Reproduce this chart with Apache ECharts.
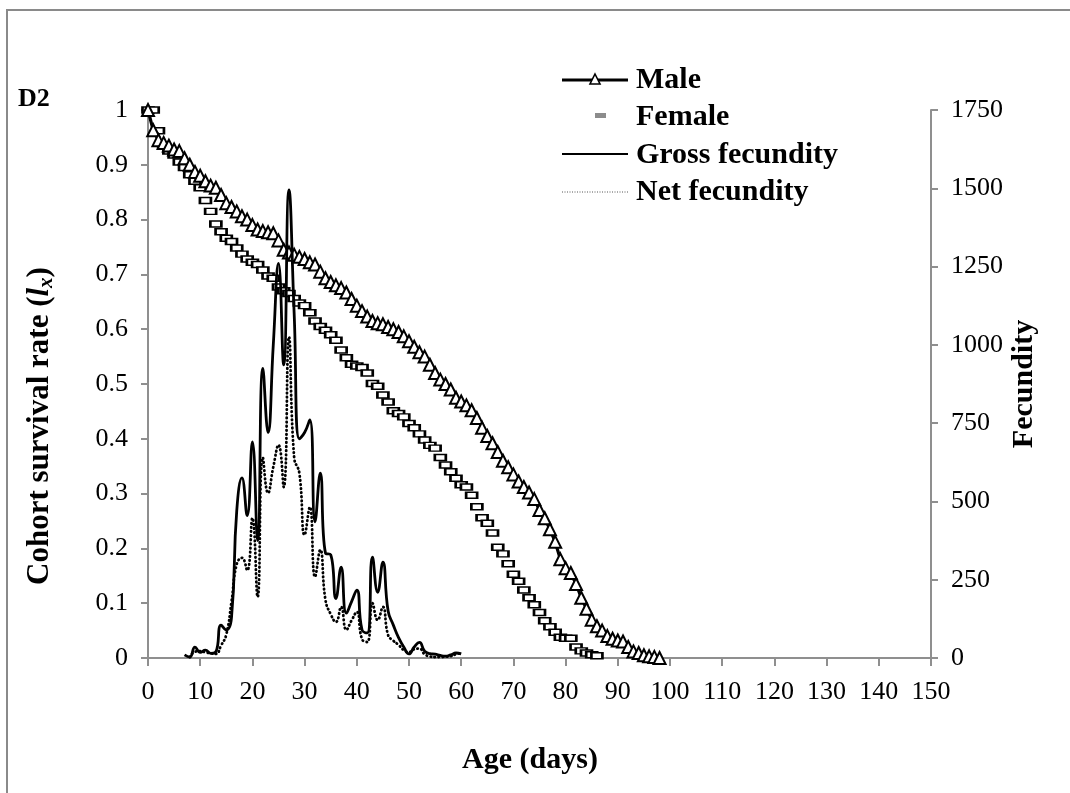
<!DOCTYPE html>
<html>
<head>
<meta charset="utf-8">
<script src="https://cdn.jsdelivr.net/npm/echarts@6/dist/echarts.min.js"></script>
<style>
  html, body { margin: 0; padding: 0; background: #fff; }
  #chart { width: 1070px; height: 793px; }
</style>
</head>
<body>
<div id="chart"></div>
<script>
// Cohort survival rate (lx) by age, one value per day starting at day 0
const maleSurvival = [
  1.000, 0.963, 0.945, 0.940, 0.935, 0.928, 0.925, 0.912, 0.900, 0.887,
  0.880, 0.870, 0.862, 0.858, 0.845, 0.830, 0.823, 0.815, 0.806, 0.800,
  0.790, 0.782, 0.779, 0.777, 0.775, 0.762, 0.745, 0.740, 0.736, 0.732,
  0.728, 0.722, 0.718, 0.705, 0.693, 0.686, 0.680, 0.675, 0.667, 0.655,
  0.643, 0.633, 0.623, 0.615, 0.611, 0.609, 0.604, 0.600, 0.595, 0.587,
  0.578, 0.568, 0.558, 0.550, 0.535, 0.520, 0.508, 0.500, 0.490, 0.475,
  0.468, 0.461, 0.452, 0.438, 0.420, 0.405, 0.392, 0.376, 0.360, 0.348,
  0.335, 0.322, 0.312, 0.302, 0.290, 0.270, 0.255, 0.235, 0.212, 0.180,
  0.164, 0.155, 0.135, 0.110, 0.090, 0.070, 0.058, 0.050, 0.040, 0.035,
  0.032, 0.030, 0.020, 0.012, 0.009, 0.005, 0.003, 0.002, 0.000
];
const femaleSurvival = [
  1.000, 1.000, 0.962, 0.935, 0.925, 0.918, 0.905, 0.895, 0.882, 0.870,
  0.858, 0.835, 0.815, 0.792, 0.778, 0.766, 0.760, 0.748, 0.737, 0.728,
  0.722, 0.718, 0.708, 0.697, 0.693, 0.677, 0.670, 0.665, 0.656, 0.648,
  0.643, 0.630, 0.615, 0.605, 0.598, 0.590, 0.580, 0.562, 0.548, 0.536,
  0.533, 0.530, 0.520, 0.501, 0.496, 0.480, 0.467, 0.451, 0.446, 0.440,
  0.428, 0.420, 0.409, 0.398, 0.388, 0.383, 0.366, 0.352, 0.340, 0.328,
  0.316, 0.312, 0.297, 0.276, 0.256, 0.246, 0.228, 0.202, 0.190, 0.172,
  0.153, 0.140, 0.124, 0.110, 0.097, 0.083, 0.068, 0.057, 0.047, 0.038,
  0.036, 0.036, 0.020, 0.013, 0.009, 0.006, 0.004
];

// Daily fecundity (eggs), first value belongs to the start day
const grossStartDay = 7;
const grossFecundity = [
  10, 3, 35, 18, 25, 15, 20, 105, 90, 130,
  470, 575, 455, 690, 375, 925, 720, 1000, 1260, 936,
  1495, 1100, 700, 720, 760, 435, 590, 335, 330, 190,
  290, 143, 180, 217, 90, 80, 322, 210, 306, 150,
  105, 65, 35, 13, 35, 50, 22, 14, 12, 8,
  6, 10, 16, 13
];
const netStartDay = 8;
const netFecundity = [
  3, 20, 22, 18, 15, 13, 40, 75, 180, 300,
  320, 280, 447, 195, 640, 527, 610, 680, 546, 1025,
  640, 590, 393, 482, 259, 345, 185, 140, 115, 163,
  90, 120, 147, 60, 51, 175, 121, 163, 73, 55,
  42, 25, 19, 28, 30, 12, 5, 3, 3, 4,
  6, 12, 16
];

// Axis ticks
const ageTicks = { min: 0, max: 150, interval: 10 };
const survivalTicks = { min: 0, max: 1, interval: 0.1 };
const fecundityTicks = { min: 0, max: 1750, interval: 250 };

const byDay = (values, start) => values.map((v, i) => [start + i, v]);

const serif = '"Liberation Serif", "Times New Roman", serif';
const axisGray = '#8f8f8f';

const chart = echarts.init(document.getElementById('chart'), null, { renderer: 'canvas' });

const tickLabel = { fontFamily: serif, fontSize: 26, color: '#000' };

const option = {
  backgroundColor: '#fff',
  animation: false,
  grid: { left: 148, right: 139, top: 110, bottom: 135 },
  xAxis: {
    type: 'value',
    min: ageTicks.min, max: ageTicks.max, interval: ageTicks.interval,
    axisLine: { show: true, onZero: false, lineStyle: { color: axisGray, width: 2 } },
    axisTick: { show: true, inside: false, length: 8, lineStyle: { color: axisGray, width: 2 } },
    axisLabel: Object.assign({ margin: 21, formatter: v => String(v) }, tickLabel),
    splitLine: { show: false }
  },
  yAxis: [
    {
      type: 'value', position: 'left',
      min: survivalTicks.min, max: survivalTicks.max, interval: survivalTicks.interval,
      axisLine: { show: true, onZero: false, lineStyle: { color: axisGray, width: 2 } },
      axisTick: { show: true, length: 7, lineStyle: { color: axisGray, width: 2 } },
      axisLabel: Object.assign({ margin: 20, formatter: v => String(+v.toFixed(1)) }, tickLabel),
      splitLine: { show: false }
    },
    {
      type: 'value', position: 'right',
      min: fecundityTicks.min, max: fecundityTicks.max, interval: fecundityTicks.interval,
      axisLine: { show: true, onZero: false, lineStyle: { color: axisGray, width: 2 } },
      axisTick: { show: true, length: 7, lineStyle: { color: axisGray, width: 2 } },
      axisLabel: Object.assign({ margin: 20, formatter: v => String(v) }, tickLabel),
      splitLine: { show: false }
    }
  ],
  series: [
    {
      name: 'Male', type: 'line', yAxisIndex: 0,
      data: byDay(maleSurvival, 0),
      symbol: 'triangle', symbolSize: 12, showAllSymbol: true,
      itemStyle: { color: '#fff', borderColor: '#000', borderWidth: 2, opacity: 1 },
      lineStyle: { color: '#000', width: 3.2 },
      z: 3
    },
    {
      name: 'Female', type: 'scatter', yAxisIndex: 0,
      data: byDay(femaleSurvival, 0),
      symbol: 'rect', symbolSize: [11, 6],
      itemStyle: { color: '#fff', borderColor: '#000', borderWidth: 2, opacity: 1 },
      z: 2
    },
    {
      name: 'Gross fecundity', type: 'line', yAxisIndex: 1,
      data: byDay(grossFecundity, grossStartDay),
      smooth: 0.5, showSymbol: false, symbol: 'none',
      lineStyle: { color: '#000', width: 2.8 },
      z: 4
    },
    {
      name: 'Net fecundity', type: 'line', yAxisIndex: 1,
      data: byDay(netFecundity, netStartDay),
      smooth: 0.5, showSymbol: false, symbol: 'none',
      lineStyle: { color: '#000', width: 2.8, type: [0.5, 3.6], cap: 'round' },
      z: 4
    }
  ],
  graphic: [
    // outer frame
    { type: 'rect', silent: true, shape: { x: 7, y: 10, width: 1200, height: 900 },
      style: { fill: null, stroke: '#8a8a8a', lineWidth: 2 } },
    // panel tag
    { type: 'text', left: 18, top: 86,
      style: { text: 'D2', font: 'bold 26px ' + serif, fill: '#000' } },
    // axis titles
    { type: 'text', x: 40, y: 426, rotation: Math.PI / 2,
      style: {
        text: '{b|Cohort survival rate (}{i|l}{s|x}{b|)}',
        align: 'center', verticalAlign: 'middle',
        rich: {
          b: { font: 'bold 31px ' + serif, fill: '#000' },
          i: { font: 'italic bold 31px ' + serif, fill: '#000' },
          s: { font: 'italic bold 21px ' + serif, fill: '#000', padding: [13, 0, 0, 0] }
        }
      } },
    { type: 'text', x: 1024, y: 384, rotation: Math.PI / 2,
      style: { text: 'Fecundity', font: 'bold 30px ' + serif, fill: '#000',
        align: 'center', verticalAlign: 'middle' } },
    { type: 'text', x: 530, y: 760,
      style: { text: 'Age (days)', font: 'bold 30px ' + serif, fill: '#000',
        align: 'center', verticalAlign: 'middle' } },
    // legend: Male
    { type: 'line', shape: { x1: 562, y1: 80, x2: 628, y2: 80 }, style: { stroke: '#000', lineWidth: 3 } },
    { type: 'polygon', shape: { points: [[595, 74], [600, 84], [590, 84]] },
      style: { fill: '#fff', stroke: '#000', lineWidth: 1.6 } },
    { type: 'text', x: 636, y: 80,
      style: { text: 'Male', font: 'bold 30px ' + serif, fill: '#000', verticalAlign: 'middle' } },
    // legend: Female
    { type: 'rect', shape: { x: 595, y: 113, width: 11, height: 5 }, style: { fill: '#8c8c8c' } },
    { type: 'text', x: 636, y: 117,
      style: { text: 'Female', font: 'bold 30px ' + serif, fill: '#000', verticalAlign: 'middle' } },
    // legend: Gross fecundity
    { type: 'line', shape: { x1: 562, y1: 154, x2: 628, y2: 154 }, style: { stroke: '#000', lineWidth: 2 } },
    { type: 'text', x: 636, y: 155,
      style: { text: 'Gross fecundity', font: 'bold 30px ' + serif, fill: '#000', verticalAlign: 'middle' } },
    // legend: Net fecundity
    { type: 'line', shape: { x1: 562, y1: 192, x2: 628, y2: 192 },
      style: { stroke: '#555', lineWidth: 1, lineDash: [1, 1.5] } },
    { type: 'text', x: 636, y: 192,
      style: { text: 'Net fecundity', font: 'bold 30px ' + serif, fill: '#000', verticalAlign: 'middle' } }
  ]
};

chart.setOption(option);
</script>
</body>
</html>
